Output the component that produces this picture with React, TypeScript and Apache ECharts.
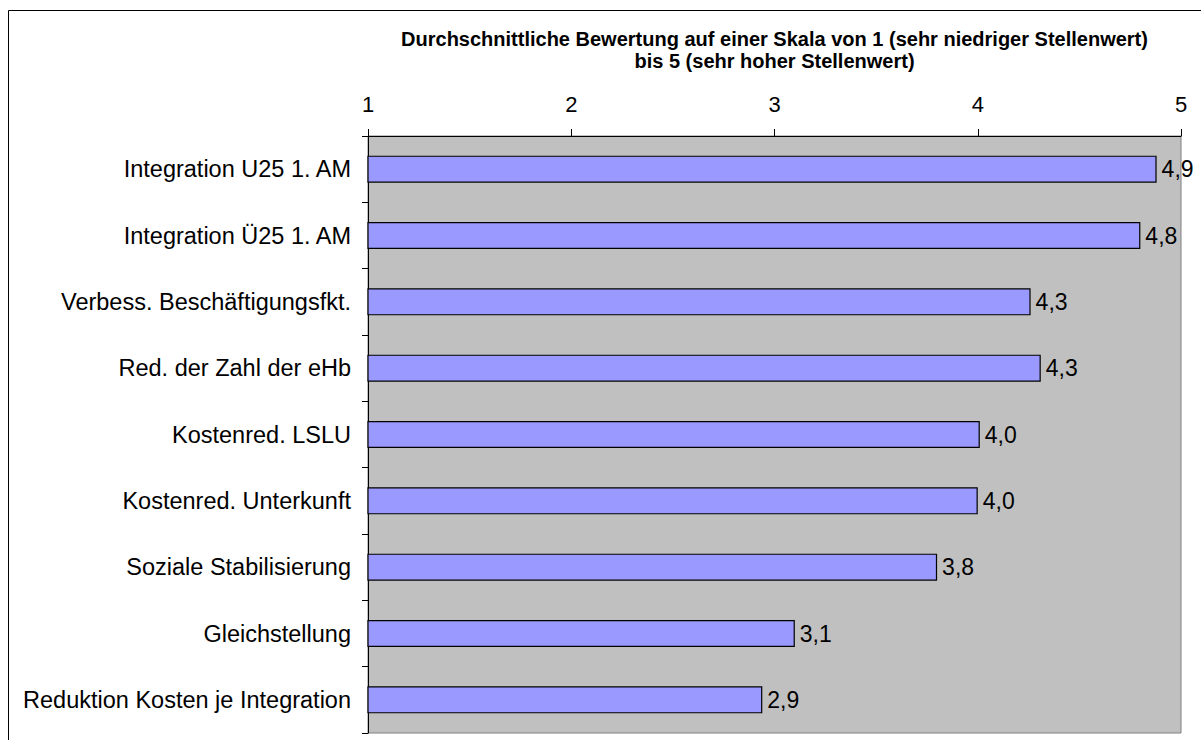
import React, { useEffect, useRef } from "react";
import * as echarts from "echarts";

const categories = [
  "Integration U25 1. AM",
  "Integration Ü25 1. AM",
  "Verbess. Beschäftigungsfkt.",
  "Red. der Zahl der eHb",
  "Kostenred. LSLU",
  "Kostenred. Unterkunft",
  "Soziale Stabilisierung",
  "Gleichstellung",
  "Reduktion Kosten je Integration",
];
const values = [4.88, 4.8, 4.26, 4.31, 4.01, 4.0, 3.8, 3.1, 2.94];
const axisTicks = [1, 2, 3, 4, 5];
const titleLines = [
  "Durchschnittliche Bewertung auf einer Skala von 1 (sehr niedriger Stellenwert)",
  "bis 5 (sehr hoher Stellenwert)",
];

const FONT = "'Liberation Sans', Arial, sans-serif";

export default function App() {
  const ref = useRef<HTMLDivElement>(null);
  useEffect(() => {
    if (!ref.current) return;
    const chart = echarts.init(ref.current, undefined, { renderer: "svg" });
    chart.setOption({
      animation: false,
      backgroundColor: "#ffffff",
      textStyle: { fontFamily: FONT },
      title: {
        text: titleLines.join("\n"),
        left: 774.5,
        top: 28,
        padding: 0,
        textAlign: "center",
        textStyle: {
          fontFamily: FONT,
          fontSize: 20,
          fontWeight: "bold",
          color: "#000",
          lineHeight: 22,
        },
      },
      graphic: [
        {
          type: "rect",
          shape: { x: 8.5, y: 10.5, width: 1200, height: 740 },
          style: { fill: "none", stroke: "#000", lineWidth: 1 },
          silent: true,
        },
      ],
      grid: {
        left: 368,
        top: 136,
        width: 813,
        height: 597,
        show: true,
        backgroundColor: "#C0C0C0",
        borderColor: "#808080",
        borderWidth: 1,
      },
      xAxis: {
        type: "value",
        position: "top",
        min: axisTicks[0],
        max: axisTicks[axisTicks.length - 1],
        interval: 1,
        axisLine: { show: true, lineStyle: { color: "#000", width: 1 } },
        axisTick: { show: true, inside: false, length: 7, lineStyle: { color: "#000" } },
        splitLine: { show: false },
        axisLabel: {
          fontSize: 22,
          color: "#000",
          margin: 21,
          fontFamily: FONT,
          showMinLabel: true,
          showMaxLabel: true,
        },
      },
      yAxis: {
        type: "category",
        data: categories,
        inverse: true,
        axisLine: { show: true, lineStyle: { color: "#000", width: 1 } },
        axisTick: { show: true, inside: false, length: 6, alignWithLabel: false, lineStyle: { color: "#000" } },
        splitLine: { show: false },
        axisLabel: { fontSize: 23.5, color: "#000", margin: 17, fontFamily: FONT },
      },
      series: [
        {
          type: "bar",
          data: values,
          barWidth: 27,
          clip: true,
          itemStyle: { color: "#9999FF", borderColor: "#000", borderWidth: 1.2 },
          label: {
            show: true,
            position: "right",
            distance: 5,
            fontSize: 23,
            color: "#000",
            fontFamily: FONT,
            formatter: (p: any) => Number(p.value).toFixed(1).replace(".", ","),
          },
        },
      ],
    });
    return () => chart.dispose();
  }, []);
  return (
    <div
      ref={ref}
      style={{ position: "fixed", left: 0, top: 0, width: 1201, height: 740 }}
    />
  );
}
